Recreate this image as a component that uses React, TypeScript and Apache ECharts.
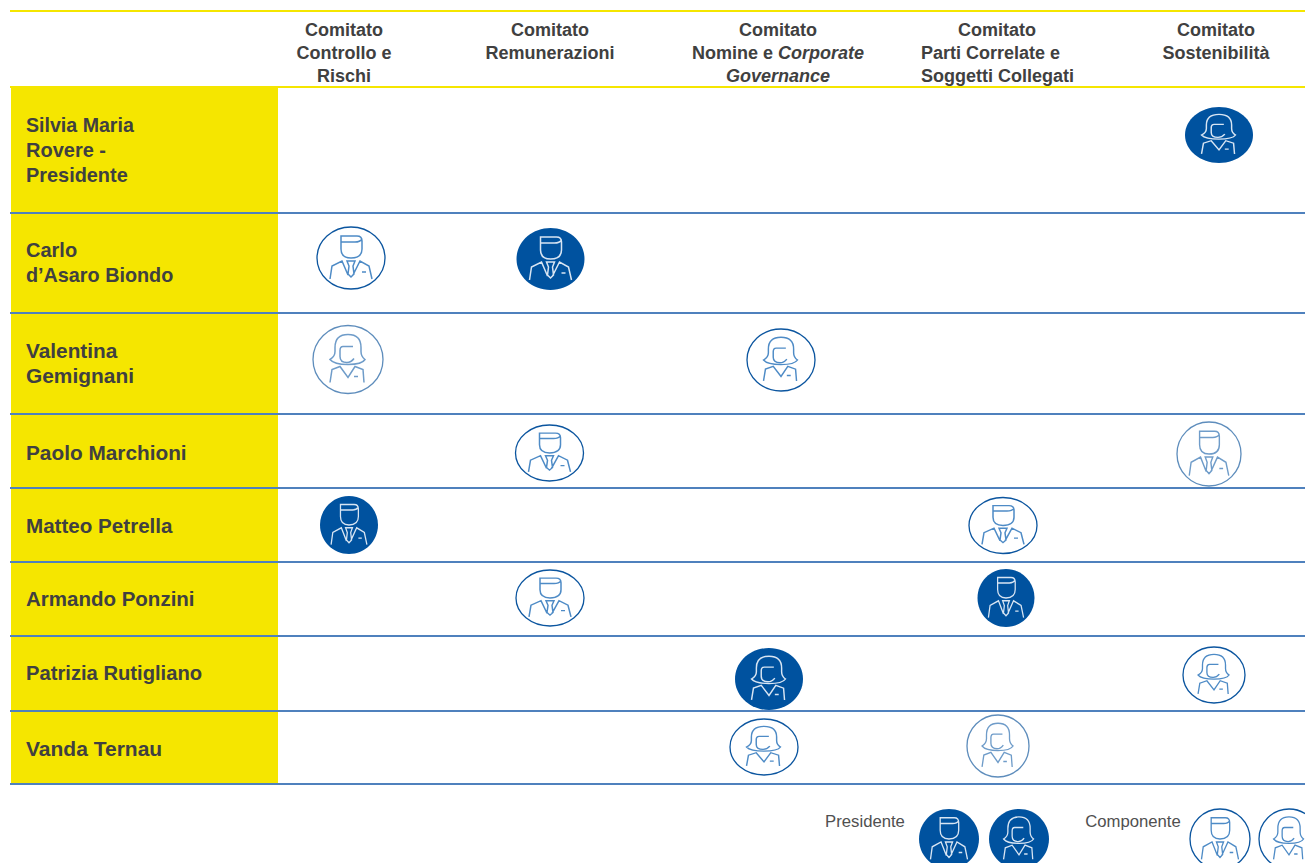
import React, { useEffect, useRef } from "react";
import * as echarts from "echarts";

const committeeLines = [
  ["Comitato", "Controllo e", "Rischi"],
  ["Comitato", "Remunerazioni"],
  ["Comitato", "{b|Nomine e }{i|Corporate}", "{i|Governance}"],
  ["Comitato", "Parti Correlate e", "Soggetti Collegati"],
  ["Comitato", "Sostenibilità"],
];
const people = [
  ["Silvia Maria", "Rovere -", "Presidente"],
  ["Carlo", "d’Asaro Biondo"],
  ["Valentina", "Gemignani"],
  ["Paolo Marchioni"],
  ["Matteo Petrella"],
  ["Armando Ponzini"],
  ["Patrizia Rutigliano"],
  ["Vanda Ternau"],
];
// P = presidente, C = componente, per committee
const rolesSilvia = ["", "", "", "", "P"];
const rolesCarlo = ["C", "P", "", "", ""];
const rolesValentina = ["C", "", "C", "", ""];
const rolesPaolo = ["", "C", "", "", "C"];
const rolesMatteo = ["P", "", "", "C", ""];
const rolesArmando = ["", "C", "", "P", ""];
const rolesPatrizia = ["", "", "P", "", "C"];
const rolesVanda = ["", "", "C", "C", ""];
const roles = [rolesSilvia, rolesCarlo, rolesValentina, rolesPaolo, rolesMatteo, rolesArmando, rolesPatrizia, rolesVanda];
const genders = ["F", "M", "F", "M", "M", "M", "F", "F"];
const legendLabels = ["Presidente", "Componente"];

// layout
const W = 1305, H = 863;
const YELLOW = "#F5E600", BLUE_LINE = "#4F81BD", DARK = "#00529F", TEXT = "#404040";
const FONT = '"Liberation Sans", Arial, sans-serif';
const rowTops = [87, 213, 313, 414, 488, 562, 636, 711];
const rowBottoms = [213, 313, 414, 488, 562, 636, 711, 784];
const nameMidY = [150, 262.5, 363, 452.5, 525, 598, 673, 748];
const nameFontSize = [[19.6, 20, 19.9], [20, 19.8], [20.8, 20.9], [20.8], [20.6], [20.5], [20.2], [21]];
const headerX = [344, 550, 778, 997, 1216];
const headerAlignX: Record<string, number> = { "3:1": 921, "3:2": 921 };
const headerLineY = [30, 53, 76];
// cell -> [cx, cy, rx, ry, light outline]
const iconBox: Record<string, number[]> = {
  "0-4": [1219, 135, 34, 28, 0],
  "1-0": [351, 258, 34, 31, 0],
  "1-1": [550.5, 259, 34, 31, 0],
  "2-0": [348, 359.5, 35, 34, 1],
  "2-2": [781, 360, 34, 31, 0],
  "3-1": [549.5, 453, 34, 28, 0],
  "3-4": [1209, 454, 32, 32, 1],
  "4-0": [349, 525, 29, 29, 0],
  "4-3": [1003, 525.5, 34, 28, 0],
  "5-1": [550, 598, 34, 28, 0],
  "5-3": [1006, 598, 28.5, 29, 0],
  "6-2": [769, 679, 34, 31, 0],
  "6-4": [1214, 675, 31, 28, 0],
  "7-2": [764, 747, 34, 28, 0],
  "7-3": [998, 746, 31, 31, 1],
};
const legendTextPos = [[865, 821], [1133, 821]];
const legendIcons: [number, number, string, string][] = [
  [949, 839, "P", "M"],
  [1019, 839, "P", "F"],
  [1220, 839, "C", "M"],
  [1289, 839, "C", "F"],
];

const malePaths = [
  "M-10,-22 L6,-22 Q11,-22 11,-17 L11,-9 Q11,0 0,0 Q-10,0 -10,-9 Z M-10,-16 L4,-16 Q9,-16 11,-19",
  "M-21,21 L-19,8 L-9,3 L-3,17 M21,21 L18,8 L9,3 L2,17 M-4,3 L4,3 L2,8 L3,16 L0,19 L-3,16 L-2,8 Z M11,14 L15,14",
];
const femalePaths = [
  "M0,-25 Q-13,-25 -13,-12 L-13,-8 Q-13,-3 -18,0 Q-14,5 0,5 Q14,5 17,0 Q13,-3 13,-8 L13,-12 Q13,-25 0,-25 Z M5,-13 L-5,-13 Q-8,-13 -8,-9 L-8,-3 Q-8,3 -1,3 Q3,3 6,-1",
  "M-18,23 L-16,10 L-8,7 L0,18 L7,7 L15,10 L16,23 M6,17 L10,17",
];

function iconChildren(api: any, cx: number, cy: number, rx: number, ry: number, filled: boolean, gender: string, light: boolean) {
  const [px, py] = api.coord([cx, cy]);
  const [sx, sy] = api.size([rx, ry]);
  const base = gender === "M" ? [34, 31] : [35, 34];
  const paths = gender === "M" ? malePaths : femalePaths;
  const stroke = filled ? "#D8E5F3" : light ? "#6F9CC9" : "#4E8BC6";
  return {
    type: "group",
    silent: true,
    children: [
      {
        type: "ellipse",
        shape: { cx: px, cy: py, rx: sx, ry: sy },
        style: filled ? { fill: DARK } : { fill: "#fff", stroke: light ? "#5E8DBC" : "#0B559F", lineWidth: 1.3 },
      },
      {
        type: "group",
        x: px,
        y: py,
        scaleX: sx / base[0],
        scaleY: sy / base[1],
        children: paths.map((d) => ({
          type: "path",
          shape: { pathData: d },
          style: { fill: "none", stroke, lineWidth: 1.5 },
        })),
      },
    ],
  };
}

const assignments: any[] = [];
roles.forEach((row, p) =>
  row.forEach((r, c) => {
    if (r) {
      const b = iconBox[`${p}-${c}`];
      assignments.push([b[0], b[1], b[2], b[3], r, genders[p], b[4]]);
    }
  })
);

export default function App() {
  const ref = useRef<HTMLDivElement>(null);
  useEffect(() => {
    document.body.style.margin = "0";
    document.body.style.overflow = "hidden";
    const chart = echarts.init(ref.current!, null, { renderer: "svg" });
    chart.setOption({
      animation: false,
      backgroundColor: "#fff",
      grid: { left: 0, right: 0, top: 0, bottom: 0 },
      xAxis: { type: "value", min: 0, max: W, show: false },
      yAxis: { type: "value", min: 0, max: H, inverse: true, show: false },
      tooltip: { show: false },
      series: [
        {
          type: "custom",
          name: "rows",
          silent: true,
          z: 1,
          data: people.map((_, i) => [i]),
          renderItem: (params: any, api: any) => {
            const i = api.value(0);
            const tl = api.coord([11, rowTops[i]]);
            const br = api.coord([278, rowBottoms[i]]);
            const lines = people[i];
            const lh = 25;
            const top = nameMidY[i] - ((lines.length - 1) * lh) / 2;
            return {
              type: "group",
              children: [
                { type: "rect", shape: { x: tl[0], y: tl[1], width: br[0] - tl[0], height: br[1] - tl[1] }, style: { fill: YELLOW } },
                ...lines.map((t, k) => {
                  const pt = api.coord([26, top + k * lh]);
                  return {
                    type: "text",
                    style: { text: t, x: pt[0], y: pt[1], fill: TEXT, font: `bold ${nameFontSize[i][k]}px ${FONT}`, textAlign: "left", textVerticalAlign: "middle" },
                  };
                }),
              ],
            };
          },
        },
        {
          type: "custom",
          name: "rowLines",
          silent: true,
          z: 2,
          data: rowBottoms.map((y) => [y]),
          renderItem: (params: any, api: any) => {
            const y = api.value(0);
            const a = api.coord([10, y]);
            const b = api.coord([W, y]);
            return { type: "line", shape: { x1: a[0], y1: a[1], x2: b[0], y2: b[1] }, style: { stroke: BLUE_LINE, lineWidth: 2 } };
          },
        },
        {
          type: "custom",
          name: "header",
          silent: true,
          z: 2,
          data: committeeLines.map((_, i) => [i]),
          renderItem: (params: any, api: any) => {
            const i = api.value(0);
            return {
              type: "group",
              children: committeeLines[i].map((t, k) => {
                const ax = headerAlignX[`${i}:${k}`];
                const pt = api.coord([ax ?? headerX[i], headerLineY[k]]);
                return {
                  type: "text",
                  style: {
                    text: t,
                    x: pt[0],
                    y: pt[1],
                    fill: TEXT,
                    font: `bold 18px ${FONT}`,
                    textAlign: ax != null ? "left" : "center",
                    textVerticalAlign: "middle",
                    rich: {
                      b: { font: `bold 18px ${FONT}`, fill: TEXT },
                      i: { font: `italic bold 18px ${FONT}`, fill: TEXT },
                    },
                  },
                };
              }),
            };
          },
        },
        {
          type: "custom",
          name: "rules",
          silent: true,
          z: 3,
          data: [[11], [87]],
          renderItem: (params: any, api: any) => {
            const y = api.value(0);
            const a = api.coord([10, y]);
            const b = api.coord([W, y]);
            return { type: "line", shape: { x1: a[0], y1: a[1], x2: b[0], y2: b[1] }, style: { stroke: YELLOW, lineWidth: 2 } };
          },
        },
        {
          type: "custom",
          name: "assignments",
          silent: true,
          z: 4,
          data: assignments,
          renderItem: (params: any, api: any) =>
            iconChildren(api, api.value(0), api.value(1), api.value(2), api.value(3), assignments[params.dataIndex][4] === "P", assignments[params.dataIndex][5], !!assignments[params.dataIndex][6]),
        },
        {
          type: "custom",
          name: "legend",
          silent: true,
          z: 5,
          data: legendIcons.map((l) => [l[0], l[1]]),
          renderItem: (params: any, api: any) => {
            const l = legendIcons[params.dataIndex];
            return iconChildren(api, l[0], l[1], 30, 30, l[2] === "P", l[3], false);
          },
        },
        {
          type: "custom",
          name: "legendText",
          silent: true,
          z: 5,
          data: legendLabels.map((_, i) => [i]),
          renderItem: (params: any, api: any) => {
            const i = api.value(0);
            const pt = api.coord(legendTextPos[i]);
            return {
              type: "text",
              style: { text: legendLabels[i], x: pt[0], y: pt[1], fill: "#505050", font: `16.7px ${FONT}`, textAlign: "center", textVerticalAlign: "middle" },
            };
          },
        },
      ],
    });
    return () => chart.dispose();
  }, []);
  return <div ref={ref} style={{ position: "absolute", left: 0, top: 0, width: W, height: H, overflow: "hidden" }} />;
}
